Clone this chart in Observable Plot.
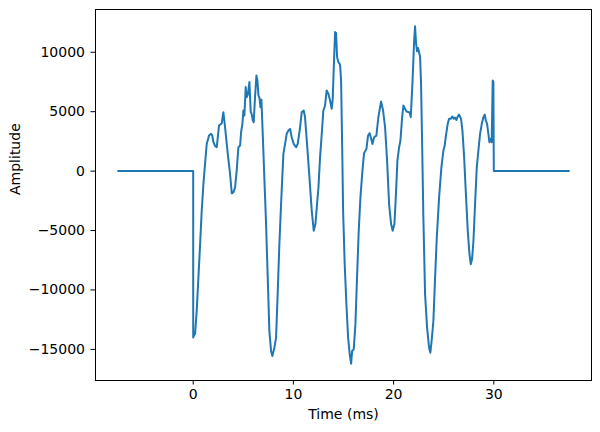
<!DOCTYPE html>
<html>
<head>
<meta charset="utf-8">
<script src="https://cdn.jsdelivr.net/npm/d3@7"></script>
<script src="https://cdn.jsdelivr.net/npm/@observablehq/plot@0.6"></script>
<style>
  html, body { margin: 0; padding: 0; background: white; }
  #chart { width: 600px; height: 432px; }
</style>
</head>
<body>
<div id="chart"></div>
<script>
// Time axis (ms) and amplitude samples
const times = [
  -7.5, 0, 0, 0.1, 0.19, 0.35, 0.52, 0.69, 0.85, 1.02, 1.18, 1.35, 1.58, 1.78, 1.9, 2.02, 2.2, 2.35,
  2.58, 2.85, 3.01, 3.18, 3.45, 3.68, 3.85, 4.01, 4.18, 4.34, 4.51, 4.68, 4.78, 4.91, 5.01, 5.11,
  5.24, 5.34, 5.44, 5.51, 5.61, 5.74, 5.84, 5.94, 6.04, 6.17, 6.31, 6.41, 6.51, 6.61, 6.71, 6.81,
  6.94, 7.11, 7.25, 7.44, 7.6, 7.77, 7.9, 8.1, 8.27, 8.43, 8.6, 8.77, 9.0, 9.17, 9.33, 9.5, 9.67,
  9.83, 10.03, 10.27, 10.43, 10.67, 10.83, 11.03, 11.16, 11.36, 11.6, 11.83, 12.03, 12.2, 12.36,
  12.5, 12.66, 12.83, 12.99, 13.16, 13.32, 13.49, 13.66, 13.82, 13.92, 14.02, 14.16, 14.26, 14.36,
  14.49, 14.6, 14.66, 14.76, 14.89, 14.96, 15.12, 15.29, 15.46, 15.62, 15.76, 15.86, 16.02, 16.19,
  16.35, 16.52, 16.69, 16.89, 17.05, 17.29, 17.45, 17.62, 17.89, 18.05, 18.28, 18.48, 18.75, 18.95,
  19.15, 19.35, 19.55, 19.75, 19.91, 20.08, 20.22, 20.38, 20.55, 20.68, 20.85, 20.98, 21.14, 21.3,
  21.47, 21.6, 21.71, 21.88, 22.04, 22.14, 22.24, 22.34, 22.44, 22.54, 22.64, 22.74, 22.87, 22.97,
  23.14, 23.34, 23.54, 23.67, 23.81, 23.97, 24.14, 24.31, 24.54, 24.77, 24.97, 25.1, 25.2, 25.4,
  25.54, 25.7, 25.87, 26.0, 26.14, 26.27, 26.4, 26.53, 26.73, 26.87, 27.04, 27.2, 27.4, 27.57, 27.7,
  27.83, 27.97, 28.13, 28.3, 28.46, 28.63, 28.8, 28.96, 29.1, 29.2, 29.33, 29.46, 29.56, 29.69,
  29.79, 29.89, 29.96, 30, 37.5
];
const amps = [
  0, 0, -14000, -13800, -13700, -11760, -8950, -6140, -3330, -1080, 600, 2290, 2990, 3140, 3000, 2430, 2100, 2010,
  3840, 4030, 4960, 3690, 1450, -240, -1870, -1790, -1370, 40, 2010, 2150, 3270, 3980, 5100, 4680,
  7070, 6220, 6400, 6790, 7490, 5000, 4800, 4300, 4110, 6220, 8050, 7630, 6370, 6200, 5380, 6000,
  3140, -800, -3890, -8950, -13450, -15130, -15560, -14860, -14010, -10350, -6140, -2770, 1450, 2290, 3140, 3410, 3550,
  2850, 2290, 2010, 2290, 3690, 4960, 5100, 4540, 2290, -520, -3330, -5020, -4450, -2770,
  -1370, 1160, 3140, 5100, 5520, 6790, 6510, 5940, 5240, 6000, 8470, 11700, 11600, 9600,
  9170, 9040, 8900, 7630, 880, -3330, -7830, -11200, -14010, -15410, -16200, -15140, -15000, -12890,
  -8950, -5020, -2210, 40, 1500, 1870, 2990, 3190, 2290, 2850, 2990, 4540, 5860, 5100,
  3690, 880, -2770, -4450, -5020, -4450, -2210, 880, 2010, 2570, 4500, 5520, 5240, 5020,
  4960, 4960, 4540, 7400, 10780, 12180, 10780, 10080, 10360, 10000, 9650, 7400, 1220, -3890,
  -10350, -13170, -14860, -15280, -14150, -12610, -8950, -5580, -2210, 320, 1730, 2150, 2850, 3980,
  4400, 4400, 4600, 4400, 4500, 4300, 4600, 4760, 4400, 3410, 1160, -1640, -5020, -6980, -7830,
  -7400, -5860, -2770, 320, 1730, 3140, 3980, 4540, 4760, 4260, 3980, 3140, 2430, 2710,
  2430, 7630, 7500, 0, 0
];
const xTicks = [0, 10, 20, 30];
const yTicks = [-15000, -10000, -5000, 0, 5000, 10000];
const xLabel = "Time (ms)";
const yLabel = "Amplitude";

const data = times.map((t, i) => ({t, v: amps[i]}));

const xMin = d3.min(times), xMax = d3.max(times);
const yMin = d3.min(amps), yMax = d3.max(amps);
const xPad = (xMax - xMin) * 0.05, yPad = (yMax - yMin) * 0.05;

const fmt = d => d < 0 ? "\u2212" + Math.abs(d) : String(d);

const chart = Plot.plot({
  width: 600,
  height: 432,
  marginLeft: 95,
  marginRight: 9,
  marginTop: 9,
  marginBottom: 52,
  style: {fontFamily: "DejaVu Sans", fontSize: "14px", background: "white", color: "black"},
  x: {domain: [xMin - xPad, xMax + xPad]},
  y: {domain: [yMin - yPad, yMax + yPad]},
  marks: [
    Plot.line(data, {x: "t", y: "v", stroke: "#1f77b4", strokeWidth: 2, strokeLinejoin: "round"}),
    Plot.frame({stroke: "black", strokeWidth: 1}),
    Plot.axisX({ticks: xTicks, tickSize: 4.5, tickPadding: 4.5, label: null, fontSize: 14, tickFormat: fmt}),
    Plot.axisY({ticks: yTicks, tickSize: 4.5, tickPadding: 6, label: null, fontSize: 14, tickFormat: fmt}),
    Plot.text([xLabel], {frameAnchor: "bottom", dy: 38, fontSize: 14, fill: "black"}),
    Plot.text([yLabel], {frameAnchor: "left", dx: -80, rotate: -90, fontSize: 14, fill: "black"})
  ]
});
document.getElementById("chart").appendChild(chart);
</script>
</body>
</html>
